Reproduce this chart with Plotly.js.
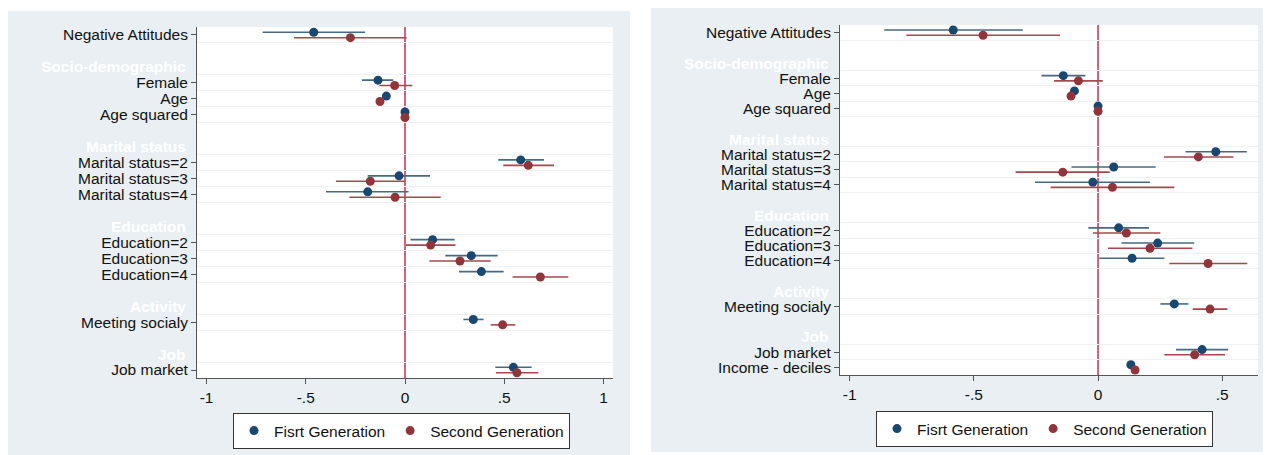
<!DOCTYPE html>
<html>
<head>
<meta charset="utf-8">
<script src="https://cdn.plot.ly/plotly-3.0.1.min.js"></script>
<style>html,body{margin:0;padding:0;background:#fff;}#chart{width:1272px;height:455px;}</style>
</head>
<body>
<div id="chart"></div>
<script>
// ---------- DATA ----------
const seriesNames = ["Fisrt Generation", "Second Generation"];

// Left panel
const leftLabels = ["Negative Attitudes","Female","Age","Age squared","Marital status=2","Marital status=3","Marital status=4","Education=2","Education=3","Education=4","Meeting socialy","Job market"];
const leftGroupOf = [0,1,1,1,2,2,2,3,3,3,4,5];
const leftHeadings = ["", "Socio-demographic", "Marital status", "Education", "Activity", "Job"];
const leftFirstEst  = [-0.460,-0.136,-0.094, 0.000, 0.583,-0.030,-0.188, 0.139, 0.334, 0.385, 0.344, 0.546];
const leftFirstLo   = [-0.717,-0.217,-0.108,-0.003, 0.470,-0.188,-0.398, 0.028, 0.203, 0.272, 0.294, 0.455];
const leftFirstHi   = [-0.201,-0.059,-0.080, 0.003, 0.700, 0.126, 0.018, 0.250, 0.467, 0.497, 0.396, 0.638];
const leftSecondEst = [-0.275,-0.052,-0.126, 0.000, 0.621,-0.175,-0.050, 0.129, 0.277, 0.682, 0.492, 0.564];
const leftSecondLo  = [-0.559,-0.129,-0.140,-0.003, 0.495,-0.348,-0.280, 0.005, 0.123, 0.542, 0.432, 0.458];
const leftSecondHi  = [ 0.008, 0.037,-0.112, 0.003, 0.751, 0.002, 0.180, 0.254, 0.432, 0.823, 0.556, 0.672];

// Right panel
const rightLabels = ["Negative Attitudes","Female","Age","Age squared","Marital status=2","Marital status=3","Marital status=4","Education=2","Education=3","Education=4","Meeting socialy","Job market","Income - deciles"];
const rightGroupOf = [0,1,1,1,2,2,2,3,3,3,4,5,5];
const rightHeadings = ["", "Socio-demographic", "Marital status", "Education", "Activity", "Job"];
const rightFirstEst  = [-0.583,-0.140,-0.095, 0.000, 0.474, 0.063,-0.021, 0.083, 0.240, 0.137, 0.307, 0.419, 0.132];
const rightFirstLo   = [-0.861,-0.228,-0.108,-0.003, 0.352,-0.107,-0.254,-0.039, 0.094, 0.005, 0.251, 0.314, 0.122];
const rightFirstHi   = [-0.303,-0.051,-0.082, 0.003, 0.599, 0.232, 0.209, 0.205, 0.387, 0.267, 0.364, 0.524, 0.142];
const rightSecondEst = [-0.463,-0.079,-0.109, 0.000, 0.404,-0.142, 0.058, 0.114, 0.209, 0.443, 0.451, 0.389, 0.149];
const rightSecondLo  = [-0.772,-0.177,-0.122,-0.003, 0.265,-0.332,-0.191,-0.021, 0.040, 0.287, 0.381, 0.267, 0.139];
const rightSecondHi  = [-0.153, 0.019,-0.096, 0.003, 0.545, 0.047, 0.307, 0.251, 0.380, 0.601, 0.521, 0.511, 0.159];

const xTickVals = [-1, -0.5, 0, 0.5, 1];
const xTickText = ["-1", "-.5", "0", ".5", "1"];

// ---------- STYLE ----------
const W = 1272, H = 455;
const FONT = "Liberation Sans, Arial, Helvetica, sans-serif";
const FS = 15.5;
const BLUE = "#1a476f", BLUE_CI = "#4a6882";
const RED = "#90353b", RED_CI = "#a8474e";
const REFLINE = "#c0324e";
const PANEL_BG = "#e9eff2";
const GRID = "#edf1f4";
const AXIS = "#555555";
const DODGE = 0.17;

const px = v => v / W;
const py = v => 1 - v / H;

function rowPositions(groupOf) {
  return groupOf.map((g, i) => i + 2 * g);
}
function headingPositions(groupOf, headings) {
  const pos = rowPositions(groupOf);
  const out = [];
  headings.forEach((h, g) => {
    if (!h) return;
    const first = groupOf.indexOf(g);
    out.push({text: h, y: pos[first] - 1});
  });
  return out;
}
function gridVals(pos) {
  const s = new Set();
  pos.forEach(p => { s.add(p - 0.5); s.add(p + 0.5); });
  return Array.from(s).sort((a, b) => a - b);
}
function coefTrace(name, est, lo, hi, pos, shift, color, ciColor, xa, ya, leg, showleg) {
  return {
    type: "scatter", mode: "markers", name: name,
    x: est, y: pos.map(p => p + shift),
    xaxis: xa, yaxis: ya, legend: leg, showlegend: showleg,
    marker: {color: color, size: 9, line: {width: 0}},
    error_x: {type: "data", symmetric: false,
      array: hi.map((h, i) => h - est[i]),
      arrayminus: lo.map((l, i) => est[i] - l),
      color: ciColor, thickness: 1.6, width: 0},
    cliponaxis: false, hoverinfo: "x+y"
  };
}

const posL = rowPositions(leftGroupOf);
const posR = rowPositions(rightGroupOf);

const traces = [
  coefTrace(seriesNames[0], leftFirstEst, leftFirstLo, leftFirstHi, posL, -DODGE, BLUE, BLUE_CI, "x", "y", "legend", true),
  coefTrace(seriesNames[1], leftSecondEst, leftSecondLo, leftSecondHi, posL, DODGE, RED, RED_CI, "x", "y", "legend", true),
  coefTrace(seriesNames[0], rightFirstEst, rightFirstLo, rightFirstHi, posR, -DODGE, BLUE, BLUE_CI, "x2", "y2", "legend2", true),
  coefTrace(seriesNames[1], rightSecondEst, rightSecondLo, rightSecondHi, posR, DODGE, RED, RED_CI, "x2", "y2", "legend2", true)
];

const tickFont = {family: FONT, size: FS, color: "#111"};
function xAxis(domain, range, vals, text, anchor) {
  return {domain: domain, range: range, tickvals: vals, ticktext: text,
    ticks: "outside", ticklen: 5, tickwidth: 1, tickcolor: AXIS,
    showline: true, linecolor: AXIS, linewidth: 1, mirror: false,
    showgrid: false, zeroline: false, anchor: anchor, tickfont: tickFont, fixedrange: true};
}
function yAxis(domain, range, pos, labels, anchor) {
  return {domain: domain, range: range, tickvals: pos, ticktext: labels,
    ticks: "outside", ticklen: 5, tickwidth: 1, tickcolor: AXIS,
    showline: true, linecolor: AXIS, linewidth: 1,
    showgrid: false, zeroline: false, anchor: anchor, tickfont: tickFont, fixedrange: true,
    minor: {tickvals: gridVals(pos), showgrid: true, gridcolor: GRID, gridwidth: 1, ticks: ""}};
}

const shapes = [
  {type: "rect", xref: "paper", yref: "paper", x0: px(8), x1: px(630), y0: py(455), y1: py(11), fillcolor: PANEL_BG, line: {width: 0}, layer: "below"},
  {type: "rect", xref: "paper", yref: "paper", x0: px(651), x1: px(1263), y0: py(452), y1: py(8), fillcolor: PANEL_BG, line: {width: 0}, layer: "below"},
  {type: "rect", xref: "paper", yref: "paper", x0: px(197), x1: px(613), y0: py(378), y1: py(27), fillcolor: "#ffffff", line: {width: 0}, layer: "below"},
  {type: "rect", xref: "paper", yref: "paper", x0: px(840), x1: px(1258), y0: py(375), y1: py(25), fillcolor: "#ffffff", line: {width: 0}, layer: "below"},
  {type: "line", xref: "x", yref: "y domain", x0: 0, x1: 0, y0: 0, y1: 1, line: {color: REFLINE, width: 1.5}, layer: "below"},
  {type: "line", xref: "x2", yref: "y2 domain", x0: 0, x1: 0, y0: 0, y1: 1, line: {color: REFLINE, width: 1.5}, layer: "below"}
];

const annotations = [];
headingPositions(leftGroupOf, leftHeadings).forEach(h => annotations.push({
  text: "<b>" + h.text + "</b>", xref: "paper", yref: "y", x: px(188), y: h.y,
  xanchor: "right", yanchor: "middle", showarrow: false,
  font: {family: FONT, size: FS, color: "#ffffff"}}));
headingPositions(rightGroupOf, rightHeadings).forEach(h => annotations.push({
  text: "<b>" + h.text + "</b>", xref: "paper", yref: "y2", x: px(831), y: h.y,
  xanchor: "right", yanchor: "middle", showarrow: false,
  font: {family: FONT, size: FS, color: "#ffffff"}}));

const legendStyle = {orientation: "h", bgcolor: "#ffffff", bordercolor: "#333333", borderwidth: 1,
  font: {family: FONT, size: FS, color: "#111"}, xanchor: "left", yanchor: "top",
  itemclick: false, itemdoubleclick: false, traceorder: "normal"};

const layout = {
  width: W, height: H,
  margin: {l: 0, r: 0, t: 0, b: 0, pad: 0},
  paper_bgcolor: "#ffffff", plot_bgcolor: "#ffffff",
  font: {family: FONT, size: FS, color: "#111"},
  showlegend: true,
  xaxis: xAxis([px(197), px(613)], [-1.048, 1.048], xTickVals, xTickText, "y"),
  yaxis: yAxis([py(378), py(27)], [21.5, -0.5], posL, leftLabels, "x"),
  xaxis2: xAxis([px(840), px(1258)], [-1.039, 0.644], xTickVals.slice(0, 4), xTickText.slice(0, 4), "y2"),
  yaxis2: yAxis([py(375), py(25)], [22.5, -0.5], posR, rightLabels, "x2"),
  legend: Object.assign({}, legendStyle, {x: px(233), y: py(413)}),
  legend2: Object.assign({}, legendStyle, {x: px(876), y: py(411)}),
  shapes: shapes,
  annotations: annotations
};

Plotly.newPlot("chart", traces, layout, {displayModeBar: false, staticPlot: true});
</script>
</body>
</html>
